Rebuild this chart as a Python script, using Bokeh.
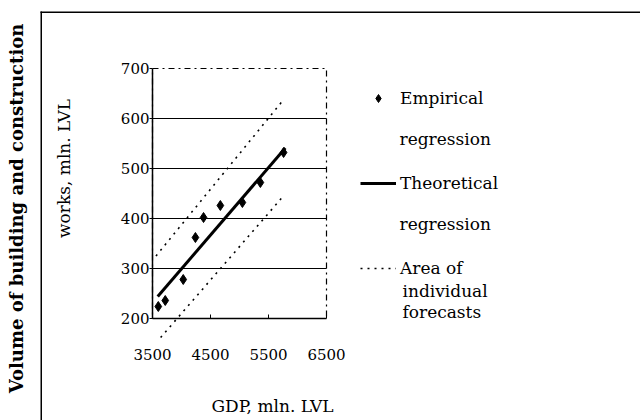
from bokeh.plotting import figure
from bokeh.models import (ColumnDataSource, FixedTicker, Legend, LegendItem,
                          Label, BoxAnnotation, Range1d, LinearAxis)
from bokeh.embed import file_html
from bokeh.resources import INLINE
import math

# --- data ---
gdp = [3600, 3720, 4030, 4240, 4380, 4670, 5050, 5360, 5760]
volume = [224, 236, 278, 362, 402, 426, 432, 472, 532]

reg_x = [3590, 5790]
reg_y = [244, 541]

upper_x = [3560, 5720]
upper_y = [325, 632]
lower_x = [3640, 5750]
lower_y = [162, 444]

x_ticks = [3500, 4500, 5500, 6500]
y_ticks = [200, 300, 400, 500, 600, 700]
grid_ticks = [300, 400, 500, 600]
X_MIN, X_MAX = 3500, 6500
Y_MIN, Y_MAX = 200, 700

FONT = "DejaVu Serif"

# --- layout (pixels in the figure) ---
W, H = 640, 420
PA_L, PA_R, PA_T, PA_B = 152, 326, 68, 318   # plot area edges

kx = (X_MAX - X_MIN) / (PA_R - PA_L)
ky = (Y_MAX - Y_MIN) / (PA_B - PA_T)
xr = Range1d(X_MIN - PA_L * kx, X_MIN + (W - PA_L) * kx)
yr = Range1d(Y_MIN - (H - PA_B) * ky, Y_MAX + PA_T * ky)

p = figure(width=W, height=H, output_backend="svg", toolbar_location=None,
           x_range=xr, y_range=yr, x_axis_location=None, y_axis_location=None,
           min_border=0, min_border_left=0, min_border_right=0,
           min_border_top=0, min_border_bottom=0)
p.background_fill_color = "white"
p.border_fill_color = "white"
p.outline_line_color = None
p.xgrid.visible = False
p.ygrid.visible = False

# plot-area frame (dash-dot, as in the reference)
p.add_layout(BoxAnnotation(left=X_MIN, right=X_MAX, bottom=Y_MIN, top=Y_MAX,
                           fill_alpha=0, line_color="black", line_alpha=1,
                           line_width=1.2, line_dash="dashdot", level="underlay"))
# horizontal grid lines inside the plot area
p.segment(x0=X_MIN, x1=X_MAX, y0=grid_ticks, y1=grid_ticks,
          line_color="black", line_width=1.2, level="underlay")

xaxis = LinearAxis(fixed_location=Y_MIN, bounds=(X_MIN, X_MAX),
                   ticker=FixedTicker(ticks=x_ticks))
yaxis = LinearAxis(fixed_location=X_MIN, bounds=(Y_MIN, Y_MAX),
                   ticker=FixedTicker(ticks=y_ticks))
for ax in (xaxis, yaxis):
    ax.axis_line_color = "black"
    ax.axis_line_width = 1.5
    ax.major_tick_line_color = "black"
    ax.minor_tick_line_color = None
    ax.major_label_text_font = FONT
    ax.major_label_text_font_size = "15px"
    ax.major_label_text_color = "black"
xaxis.major_tick_in = 4
xaxis.major_tick_out = 0
xaxis.major_label_standoff = 30
yaxis.major_tick_in = 0
yaxis.major_tick_out = 3
yaxis.major_label_standoff = 0
p.add_layout(xaxis, "below")
p.add_layout(yaxis, "left")

src = ColumnDataSource(dict(x=gdp, y=volume))
r_up = p.line(upper_x, upper_y, line_color="black", line_width=1.6, line_dash="2 5")
r_lo = p.line(lower_x, lower_y, line_color="black", line_width=1.6, line_dash="2 5")
r_reg = p.line(reg_x, reg_y, line_color="black", line_width=3)
r_emp = p.scatter("x", "y", source=src, marker="diamond", size=10,
                  fill_color="black", line_color="black")

legend = Legend(items=[
    LegendItem(label="Empirical", renderers=[r_emp]),
    LegendItem(label="Theoretical", renderers=[r_reg]),
    LegendItem(label="Area of", renderers=[r_up]),
], location=(360, 142))
legend.padding = 0
legend.margin = 0
legend.spacing = 65
legend.glyph_width = 36
legend.glyph_height = 20
legend.label_height = 20
legend.label_standoff = 4
legend.border_line_alpha = 0
legend.background_fill_alpha = 0
legend.label_text_font = FONT
legend.label_text_font_size = "17px"
legend.label_text_color = "black"
p.add_layout(legend)


def add_label(txt, x, y, size="17px", style="normal", angle=0.0, align="left"):
    p.add_layout(Label(x=x, y=y, x_units="screen", y_units="screen", text=txt,
                       text_font=FONT, text_font_size=size, text_font_style=style,
                       text_align=align, text_baseline="middle", angle=angle,
                       text_color="black"))


add_label("regression", 399, 282)
add_label("regression", 399, 197)
add_label("individual", 402, 130)
add_label("forecasts", 402, 109)

add_label("Volume of building and construction", 16, 212, size="18px",
          style="bold", angle=math.pi / 2, align="center")
add_label("works, mln. LVL", 63, 252, size="17px", angle=math.pi / 2, align="center")
add_label("GDP, mln. LVL", 272, 15, size="17px", align="center")

# outer frame of the figure (only top and left edges are in view)
p.add_layout(BoxAnnotation(left=40, right=W, top=H - 11, bottom=H - 12.5,
                           left_units="screen", right_units="screen",
                           top_units="screen", bottom_units="screen",
                           fill_color="black", fill_alpha=1, line_color=None))
p.add_layout(BoxAnnotation(left=40, right=41.5, top=H - 11, bottom=0,
                           left_units="screen", right_units="screen",
                           top_units="screen", bottom_units="screen",
                           fill_color="black", fill_alpha=1, line_color=None))

open("out.html", "w").write(file_html(p, INLINE))
